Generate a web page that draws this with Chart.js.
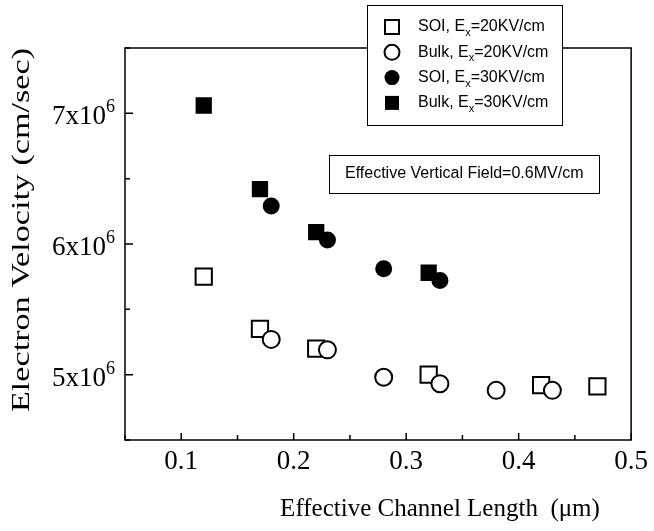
<!DOCTYPE html>
<html>
<head>
<meta charset="utf-8">
<script src="https://cdn.jsdelivr.net/npm/chart.js@4/dist/chart.umd.min.js"></script>
<style>
  html, body { margin: 0; padding: 0; background: #fff; }
  #wrap { width: 654px; height: 531px; }
</style>
</head>
<body>
<div id="wrap"><canvas id="chart" width="654" height="531"></canvas></div>
<script>
// series names (legend), "Ex" is drawn with a subscript x
const seriesNames = ['SOI, Ex=20KV/cm', 'Bulk, Ex=20KV/cm', 'SOI, Ex=30KV/cm', 'Bulk, Ex=30KV/cm'];

// channel length (um) and electron velocity (cm/sec)
const soi20Length = [0.12, 0.17, 0.22, 0.32, 0.42, 0.47];
const soi20Velocity = [5.75e6, 5.35e6, 5.20e6, 5.00e6, 4.92e6, 4.91e6];
const bulk20Length = [0.18, 0.23, 0.28, 0.33, 0.38, 0.43];
const bulk20Velocity = [5.27e6, 5.19e6, 4.98e6, 4.93e6, 4.88e6, 4.88e6];
const soi30Length = [0.18, 0.23, 0.28, 0.33];
const soi30Velocity = [6.29e6, 6.03e6, 5.81e6, 5.72e6];
const bulk30Length = [0.12, 0.17, 0.22, 0.32];
const bulk30Velocity = [7.06e6, 6.42e6, 6.09e6, 5.78e6];

// labelled ticks
const xTickLabels = [0.1, 0.2, 0.3, 0.4, 0.5];
const yTickLabels = [5e6, 6e6, 7e6];

const xTitle = 'Effective Channel Length  (\u03bcm)';
const yTitle = 'Electron Velocity (cm/sec)';
const noteText = 'Effective Vertical Field=0.6MV/cm';

const SERIF = '"Liberation Serif", "Times New Roman", serif';
const SANS = '"Liberation Sans", Arial, sans-serif';

const toPoints = (xs, ys) => xs.map((x, i) => ({ x: x, y: ys[i] }));
const isLabelled = (v, list) => list.some(t => Math.abs(t - v) < 1e-9 * Math.max(1, Math.abs(t)));

// open = white fill, filled = black fill
const makeSet = (label, xs, ys, shape, filled, order) => ({
  label: label,
  data: toPoints(xs, ys),
  pointStyle: shape,
  pointRadius: shape === 'rect' ? 11.5 : 8.5,
  pointHoverRadius: shape === 'rect' ? 11.5 : 8.5,
  pointBorderWidth: filled ? 0 : 2,
  pointBackgroundColor: filled ? '#000' : '#fff',
  pointBorderColor: '#000',
  showLine: false,
  order: order,
});

const datasets = [
  makeSet(seriesNames[0], soi20Length, soi20Velocity, 'rect', false, 1),
  makeSet(seriesNames[1], bulk20Length, bulk20Velocity, 'circle', false, 0),
  makeSet(seriesNames[2], soi30Length, soi30Velocity, 'circle', true, 0),
  makeSet(seriesNames[3], bulk30Length, bulk30Velocity, 'rect', true, 1),
];

// draws a marker like the dataset's point style
function drawMarker(ctx, ds, x, y, size) {
  ctx.beginPath();
  if (ds.pointStyle === 'rect') {
    ctx.rect(x - size / 2, y - size / 2, size, size);
  } else {
    ctx.arc(x, y, size / 2, 0, Math.PI * 2);
  }
  ctx.fillStyle = ds.pointBackgroundColor;
  ctx.fill();
  if (ds.pointBorderWidth > 0) {
    ctx.lineWidth = ds.pointBorderWidth;
    ctx.strokeStyle = '#000';
    ctx.stroke();
  }
}

const paperPlugin = {
  id: 'paper',
  afterDraw(chart) {
    const ctx = chart.ctx;
    const a = chart.chartArea;
    const xs = chart.scales.x;
    const ys = chart.scales.y;
    ctx.save();

    // frame
    ctx.strokeStyle = '#000';
    ctx.lineWidth = 1.5;
    ctx.strokeRect(a.left, a.top, a.right - a.left, a.bottom - a.top);

    // inward tick marks
    ctx.beginPath();
    xs.ticks.forEach(t => {
      const px = xs.getPixelForValue(t.value);
      const len = isLabelled(t.value, xTickLabels) ? 7 : 5;
      ctx.moveTo(px, a.bottom);
      ctx.lineTo(px, a.bottom - len);
    });
    ys.ticks.forEach(t => {
      const py = ys.getPixelForValue(t.value);
      const len = isLabelled(t.value, yTickLabels) ? 8 : 5;
      ctx.moveTo(a.left, py);
      ctx.lineTo(a.left + len, py);
    });
    ctx.stroke();

    // y tick labels with superscript exponent
    ctx.fillStyle = '#000';
    ys.ticks.forEach(t => {
      if (!isLabelled(t.value, yTickLabels)) return;
      const py = ys.getPixelForValue(t.value);
      const exp = Math.floor(Math.log10(t.value));
      const mant = Math.round(t.value / Math.pow(10, exp));
      const right = a.left - 10;
      ctx.font = '18px ' + SERIF;
      const supW = ctx.measureText(String(exp)).width;
      ctx.textAlign = 'left';
      ctx.textBaseline = 'alphabetic';
      ctx.fillText(String(exp), right - supW, py - 1);
      ctx.font = '27px ' + SERIF;
      ctx.textAlign = 'right';
      ctx.fillText(mant + 'x10', right - supW, py + 11);
    });

    // axis titles
    ctx.textAlign = 'center';
    ctx.textBaseline = 'middle';
    ctx.font = '25px ' + SERIF;
    ctx.fillText(xTitle, 440, 509);
    // the y title is stretched along its length in the original figure
    ctx.font = '26px ' + SERIF;
    const yLen = ctx.measureText(yTitle).width;
    ctx.save();
    ctx.translate(22, 230);
    ctx.rotate(-Math.PI / 2);
    ctx.scale(364 / yLen, 1);
    ctx.fillText(yTitle, 0, 0);
    ctx.restore();

    // legend box
    const lx = 367, ly = 5, lw = 195, lh = 120;
    ctx.fillStyle = '#fff';
    ctx.fillRect(lx, ly, lw, lh);
    ctx.lineWidth = 1;
    ctx.strokeStyle = '#000';
    ctx.strokeRect(lx + 0.5, ly + 0.5, lw, lh);
    chart.data.datasets.forEach((ds, i) => {
      const ry = 27 + i * 25.3;
      drawMarker(ctx, ds, 392, ry, ds.pointStyle === 'rect' ? 14 : 15);
      const label = ds.label;
      const k = label.indexOf('Ex=');
      const head = label.slice(0, k + 1);
      const tail = label.slice(k + 2);
      let tx = 418;
      ctx.fillStyle = '#000';
      ctx.textAlign = 'left';
      ctx.textBaseline = 'middle';
      ctx.font = '16px ' + SANS;
      ctx.fillText(head, tx, ry);
      tx += ctx.measureText(head).width;
      ctx.font = '11px ' + SANS;
      ctx.fillText('x', tx, ry + 6);
      tx += ctx.measureText('x').width;
      ctx.font = '16px ' + SANS;
      ctx.fillText(tail, tx, ry);
    });

    // note box
    ctx.fillStyle = '#fff';
    ctx.fillRect(329, 155, 270, 38);
    ctx.strokeStyle = '#000';
    ctx.lineWidth = 1;
    ctx.strokeRect(329.5, 155.5, 270, 38);
    ctx.fillStyle = '#000';
    ctx.font = '16px ' + SANS;
    ctx.textAlign = 'left';
    ctx.textBaseline = 'middle';
    ctx.fillText(noteText, 345, 174);

    ctx.restore();
  },
};

new Chart(document.getElementById('chart'), {
  type: 'scatter',
  data: { datasets: datasets },
  plugins: [paperPlugin],
  options: {
    responsive: false,
    animation: false,
    events: [],
    layout: { padding: { top: 48, right: 20, left: 0, bottom: 0 } },
    plugins: {
      legend: { display: false },
      tooltip: { enabled: false },
    },
    scales: {
      x: {
        type: 'linear',
        min: 0.05,
        max: 0.5,
        afterFit: (s) => { s.height = 91; },
        grid: { display: false, drawTicks: false },
        border: { display: false },
        ticks: {
          stepSize: 0.05,
          autoSkip: false,
          maxRotation: 0,
          padding: 6,
          color: '#000',
          font: { family: SERIF, size: 27 },
          callback: (v) => (isLabelled(v, xTickLabels) ? Number(v).toFixed(1) : ''),
        },
      },
      y: {
        type: 'linear',
        min: 4.5e6,
        max: 7.5e6,
        afterFit: (s) => { s.width = 125; },
        grid: { display: false, drawTicks: false },
        border: { display: false },
        ticks: { stepSize: 5e5, display: false },
      },
    },
  },
});
</script>
</body>
</html>
